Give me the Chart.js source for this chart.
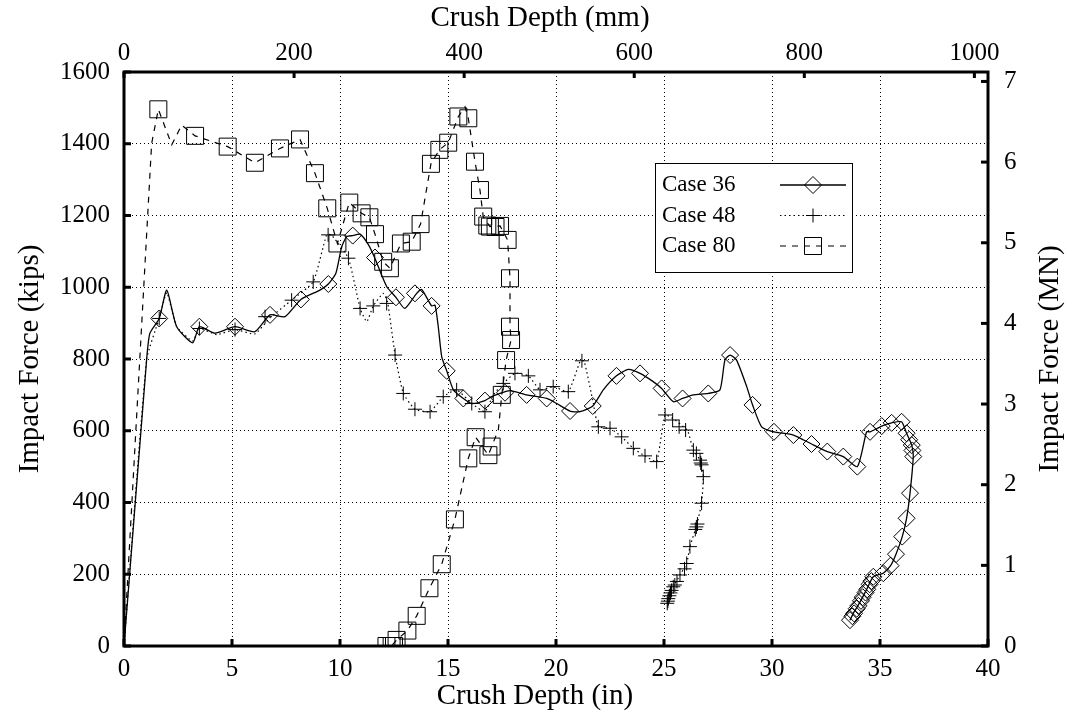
<!DOCTYPE html>
<html>
<head>
<meta charset="utf-8">
<script src="https://cdn.jsdelivr.net/npm/chart.js@4.4.1/dist/chart.umd.min.js"></script>
<style>
    body { margin: 0; background: #fff; }
    #wrap { width: 1070px; height: 717px; }
</style>
</head>
<body>
<div id="wrap"><canvas id="chartCrush" width="1070" height="717"></canvas></div>
<script>
// crush depth (in) / impact force (kips)
const case36LineX = [0, 1.05, 1.2, 1.63, 1.98, 2.44, 3.18, 3.49, 4.21, 5.14, 6.06, 6.76, 7.45, 8.19, 9.07, 9.46, 9.81, 10.08, 10.31, 10.59,
    10.93, 11.3, 11.6, 12.16, 12.59, 13.0, 13.55, 13.78, 14.24, 14.4, 14.55, 14.71, 14.94, 15.25, 15.71, 16.1, 16.71, 17.02, 17.41, 17.87,
    18.64, 19.57, 20.03, 20.65, 21.11, 21.7, 22.19, 22.8, 23.35, 23.89, 24.5, 24.89, 25.43, 25.86, 26.36, 27.05, 27.59, 27.82, 28.06, 28.36,
    28.83, 29.1, 29.52, 30.09, 30.99, 31.83, 32.56, 33.3, 33.95, 34.38, 34.54, 35.08, 35.54, 36.0, 36.23, 36.47, 36.54, 36.39, 36.23, 36.03,
    35.74, 35.49, 35.15, 34.69, 34.4, 34.1, 33.8, 33.61];
const case36LineY = [0, 800, 872, 913, 992, 890, 845, 890, 872, 890, 876, 923, 918, 966, 992, 1009, 1039, 1113, 1141, 1144,
    1148, 1120, 1083, 1002, 972, 941, 983, 994, 948, 950, 890, 806, 767, 714, 690, 676, 684, 695, 704, 712,
    700, 690, 676, 655, 653, 669, 714, 753, 771, 760, 737, 718, 681, 690, 700, 704, 714, 797, 811, 797,
    723, 672, 611, 597, 588, 563, 542, 528, 500, 597, 597, 613, 622, 625, 593, 560, 528, 426, 356, 305,
    256, 224, 203, 193, 160, 125, 95, 72];
const case36MarkX = [1.63, 3.49, 5.14, 6.76, 8.19, 9.46, 10.59, 11.62, 12.59, 13.47, 14.24, 14.94, 15.71, 16.71, 17.64, 18.64, 19.57, 20.65,
    21.7, 22.8, 23.89, 24.89, 25.86, 27.05, 28.06, 29.1, 30.09, 30.99, 31.83, 32.56, 33.3, 33.95, 34.54, 35.08, 35.54, 36.0, 36.23, 36.35,
    36.47, 36.5, 36.54, 36.39, 36.23, 36.03, 35.74, 35.49, 35.15, 34.69, 34.6, 34.52, 34.41, 34.33, 34.2, 34.12, 34.0, 33.92, 33.8, 33.72, 33.61];
const case36MarkY = [913, 890, 890, 923, 966, 1009, 1144, 1083, 972, 983, 948, 767, 690, 684, 706, 700, 690, 655,
    669, 753, 760, 718, 690, 704, 811, 672, 597, 588, 563, 542, 528, 500, 597, 613, 622, 625, 593, 575,
    560, 545, 528, 426, 356, 305, 256, 224, 203, 193, 181, 172, 158, 149, 136, 126, 112, 104, 91, 83, 72];

const case48LineX = [0, 1.05, 1.63, 1.98, 2.44, 3.18, 3.49, 4.3, 5.14, 6.06, 6.76, 7.76, 8.76, 9.38, 9.6, 10.39, 10.93, 11.24, 11.54, 12.0,
    12.2, 12.55, 12.93, 13.47, 14.17, 14.78, 15.4, 16.1, 16.71, 17.1, 17.56, 18.1, 18.72, 19.26, 19.87, 20.57, 21.11, 21.3, 21.73, 21.96,
    22.5, 23.04, 23.58, 24.12, 24.66, 25.05, 25.51, 25.9, 26.1, 26.36, 26.67, 26.82, 26.74, 26.51, 26.2, 26.05, 25.74, 25.43, 25.3, 25.2, 25.15];
const case48LineY = [0, 800, 913, 985, 890, 850, 885, 868, 882, 870, 915, 964, 1015, 1146, 1146, 1081, 941, 904, 948, 983,
    960, 811, 704, 660, 653, 695, 714, 676, 653, 700, 732, 760, 753, 714, 723, 709, 792, 795, 676, 611,
    607, 583, 551, 530, 514, 644, 630, 611, 600, 546, 518, 472, 398, 336, 277, 230, 198, 165, 150, 137, 119];
const case48MarkX = [1.63, 3.49, 5.14, 6.53, 7.76, 8.76, 9.45, 10.39, 10.93, 11.54, 12.16, 12.55, 12.93, 13.47, 14.17, 14.78, 15.4, 16.1,
    16.71, 17.56, 18.1, 18.72, 19.26, 19.87, 20.57, 21.2, 21.96, 22.5, 23.04, 23.58, 24.12, 24.66, 25.05, 25.4, 25.7, 26.0, 26.36, 26.5,
    26.67, 26.7, 26.74, 26.82, 26.74, 26.55, 26.5, 26.45, 26.2, 26.05, 25.95, 25.74, 25.6, 25.5, 25.43, 25.35, 25.3, 25.25, 25.2, 25.18, 25.15];
const case48MarkY = [913, 885, 882, 918, 964, 1015, 1146, 1081, 941, 948, 955, 811, 704, 660, 653, 695, 714, 676,
    653, 732, 760, 753, 714, 723, 709, 795, 611, 607, 583, 551, 530, 514, 644, 630, 611, 602, 546, 537,
    518, 510, 505, 472, 398, 340, 332, 325, 277, 230, 215, 198, 180, 170, 165, 155, 148, 140, 132, 125, 119];

const case80LineX = [0, 1.28, 1.59, 2.21, 2.67, 3.29, 4.8, 6.06, 7.22, 8.15, 8.84, 9.41, 9.88, 10.43, 11.0, 11.36, 11.62, 12.0, 12.31, 12.82,
    13.32, 13.73, 14.21, 14.6, 15.01, 15.48, 15.79, 15.94, 16.25, 16.48, 16.63, 16.94, 17.41, 17.76, 17.87, 17.87, 17.92, 17.69, 17.49, 17.33,
    17.02, 16.87, 16.28, 15.94, 15.32, 14.71, 14.14, 13.55, 13.12, 12.62, 12.39, 12.15, 12.5];
const case80LineY = [0, 1401, 1496, 1397, 1452, 1422, 1392, 1347, 1387, 1412, 1318, 1220, 1122, 1236, 1206, 1195, 1148, 1071, 1053, 1122,
    1127, 1176, 1344, 1383, 1403, 1476, 1503, 1471, 1350, 1271, 1197, 1169, 1171, 1132, 1025, 890, 853, 797, 700, 602,
    556, 532, 582, 523, 353, 228, 161, 84, 43, 17, 0, 0, 0];
const case80MarkX = [1.59, 3.29, 4.8, 6.06, 7.22, 8.15, 8.84, 9.41, 9.88, 10.43, 11.0, 11.36, 11.62, 12.0, 12.31, 12.82, 13.32, 13.73,
    14.21, 14.6, 15.01, 15.48, 15.94, 16.25, 16.48, 16.63, 16.82, 16.94, 17.2, 17.41, 17.76, 17.87, 17.87, 17.92, 17.69, 17.49, 17.02, 16.87,
    16.28, 15.94, 15.32, 14.71, 14.14, 13.55, 13.12, 12.62, 12.39, 12.15, 12.5];
const case80MarkY = [1496, 1422, 1392, 1347, 1387, 1412, 1318, 1220, 1122, 1236, 1206, 1195, 1148, 1071, 1053, 1122, 1127, 1176,
    1344, 1383, 1403, 1476, 1471, 1350, 1271, 1197, 1172, 1169, 1168, 1171, 1132, 1025, 890, 853, 797, 700, 556, 532,
    582, 523, 353, 228, 161, 84, 43, 17, 0, 0, 0];

const caseNames = ["Case 36", "Case 48", "Case 80"];
const mmTicks = [0, 200, 400, 600, 800, 1000];

const KIP_TO_MN = 0.00444822;
const IN_TO_MM = 25.4;
const FONT = "'Liberation Serif', 'DejaVu Serif', serif";

function toPoints(xs, ys) {
    return xs.map((x, i) => ({x: x, y: ys[i]}));
}

function lineSet(xs, ys, dash, width, tension) {
    return {
        data: toPoints(xs, ys),
        showLine: true,
        borderColor: "#000",
        borderWidth: width,
        borderDash: dash,
        pointRadius: 0,
        tension: tension,
    };
}

function markSet(xs, ys, style, radius) {
    return {
        data: toPoints(xs, ys),
        showLine: false,
        pointStyle: style,
        pointRadius: radius,
        pointBorderColor: "#000",
        pointBackgroundColor: "rgba(0,0,0,0)",
        pointBorderWidth: 1,
    };
}

// own drawing of the marker glyphs for the legend
function drawMarker(ctx, style, x, y) {
    ctx.beginPath();
    if (style === "diamond") {
        ctx.moveTo(x - 8.5, y);
        ctx.lineTo(x, y - 8.5);
        ctx.lineTo(x + 8.5, y);
        ctx.lineTo(x, y + 8.5);
        ctx.closePath();
    } else if (style === "plus") {
        ctx.moveTo(x - 7, y);
        ctx.lineTo(x + 7, y);
        ctx.moveTo(x, y - 7);
        ctx.lineTo(x, y + 7);
    } else {
        ctx.rect(x - 8.5, y - 8.5, 17, 17);
    }
    ctx.stroke();
}

const framePlugin = {
    id: "frameAndLegend",
    afterDraw(chart) {
        const ctx = chart.ctx;
        const a = chart.chartArea;
        const s = chart.scales;
        ctx.save();
        ctx.fillStyle = "#000";
        ctx.strokeStyle = "#000";

        // inward tick marks on all four sides
        s.x.ticks.forEach(t => {
            const px = s.x.getPixelForValue(t.value);
            ctx.fillRect(px - 1.5, a.bottom - 7, 3, 7);
        });
        s.x2.ticks.forEach(t => {
            const px = s.x2.getPixelForValue(t.value);
            ctx.fillRect(px - 1.5, a.top, 3, 6);
        });
        s.y.ticks.forEach(t => {
            const py = s.y.getPixelForValue(t.value);
            ctx.fillRect(a.left, py - 1.5, 7, 3);
        });
        s.y2.ticks.forEach(t => {
            const py = s.y2.getPixelForValue(t.value);
            ctx.fillRect(a.right - 7, py - 1.5, 7, 3);
        });

        ctx.lineWidth = 3;
        ctx.strokeRect(a.left, a.top, a.right - a.left, a.bottom - a.top);

        // axis titles
        ctx.font = "29px " + FONT;
        ctx.textAlign = "center";
        ctx.textBaseline = "middle";
        ctx.fillText("Crush Depth (mm)", 540, 18);
        ctx.fillText("Crush Depth (in)", 535, 696);
        ctx.save();
        ctx.translate(30, 359);
        ctx.rotate(-Math.PI / 2);
        ctx.fillText("Impact Force (kips)", 0, 0);
        ctx.restore();
        ctx.save();
        ctx.translate(1050, 359);
        ctx.rotate(-Math.PI / 2);
        ctx.fillText("Impact Force (MN)", 0, 0);
        ctx.restore();

        // legend box
        ctx.fillStyle = "#fff";
        ctx.fillRect(655, 163, 198, 110);
        ctx.lineWidth = 1;
        ctx.strokeRect(655.5, 163.5, 197, 109);
        ctx.fillStyle = "#000";
        ctx.textAlign = "left";
        ctx.font = "23px " + FONT;
        const dashes = [[], [1.5, 3], [6, 6]];
        const marks = ["diamond", "plus", "square"];
        caseNames.forEach((name, i) => {
            const ry = 185 + i * 30.5;
            ctx.fillText(name, 662, ry);
            ctx.lineWidth = i === 0 ? 1.3 : 1.2;
            ctx.setLineDash(dashes[i]);
            ctx.beginPath();
            ctx.moveTo(780, ry);
            ctx.lineTo(846, ry);
            ctx.stroke();
            ctx.setLineDash([]);
            ctx.lineWidth = 1;
            drawMarker(ctx, marks[i], 813, ry);
        });
        ctx.restore();
    }
};

const tickFont = {family: FONT, size: 25};
const gridOpts = {color: "#000", lineWidth: 1, drawTicks: false};
const plainLabel = (v) => String(v);

new Chart(document.getElementById("chartCrush").getContext("2d"), {
    type: "scatter",
    data: {
        datasets: [
            lineSet(case36LineX, case36LineY, [], 1.3, 0.2),
            markSet(case36MarkX, case36MarkY, "rectRot", 8.5),
            lineSet(case48LineX, case48LineY, [1.5, 3], 1.2, 0.15),
            markSet(case48MarkX, case48MarkY, "cross", 7),
            lineSet(case80LineX, case80LineY, [6, 6], 1.2, 0),
            markSet(case80MarkX, case80MarkY, "rect", 12),
        ]
    },
    options: {
        responsive: false,
        devicePixelRatio: 1,
        animation: false,
        events: [],
        layout: {padding: 0},
        plugins: {legend: {display: false}, tooltip: {enabled: false}},
        scales: {
            x: {
                type: "linear", position: "bottom", min: 0, max: 40,
                ticks: {stepSize: 5, padding: 8, color: "#000", font: tickFont, maxRotation: 0, autoSkip: false, callback: plainLabel},
                grid: gridOpts,
                border: {display: false, dash: [1, 3]},
                afterFit: (sc) => { sc.height = 71; },
            },
            y: {
                type: "linear", position: "left", min: 0, max: 1600,
                ticks: {stepSize: 200, padding: 14, color: "#000", font: tickFont, autoSkip: false, callback: plainLabel},
                grid: gridOpts,
                border: {display: false, dash: [1, 3]},
                afterFit: (sc) => { sc.width = 124; },
            },
            x2: {
                type: "linear", position: "top", min: 0, max: 40 * IN_TO_MM,
                ticks: {padding: 4, color: "#000", font: tickFont, maxRotation: 0, autoSkip: false, callback: plainLabel},
                afterBuildTicks: (sc) => { sc.ticks = mmTicks.map(v => ({value: v})); },
                grid: {display: false, drawTicks: false},
                border: {display: false},
                afterFit: (sc) => { sc.height = 72; },
            },
            y2: {
                type: "linear", position: "right", min: 0, max: 1600 * KIP_TO_MN,
                ticks: {stepSize: 1, includeBounds: false, padding: 16, color: "#000", font: tickFont, autoSkip: false, callback: plainLabel},
                grid: {display: false, drawTicks: false},
                border: {display: false},
                afterFit: (sc) => { sc.width = 82; },
            },
        }
    },
    plugins: [framePlugin]
});
</script>
</body>
</html>
